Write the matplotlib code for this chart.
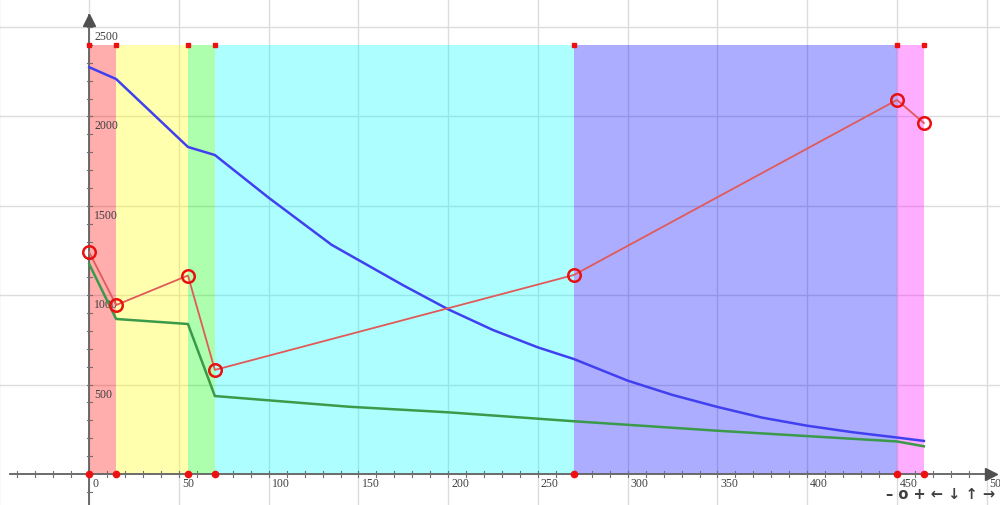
import matplotlib.pyplot as plt
import matplotlib.transforms as mtransforms

# phase boundaries and band colours
bounds = [0, 15, 55, 70, 270, 450, 465]
band_top = 2400
band_colors = ["#ff0000", "#ffff00", "#00ff00", "#00ffff", "#0000ff", "#ff00ff"]

# red series (circles)
red_x = [0, 15, 55, 70, 270, 450, 465]
red_y = [1240, 945, 1110, 582, 1113, 2092, 1963]

# blue curve
blue_x = [0, 15, 55, 70, 100, 135, 175, 200, 225, 250, 270,
          300, 325, 350, 375, 400, 425, 450, 465]
blue_y = [2275, 2209, 1829, 1784, 1545, 1282, 1055, 921, 805, 708, 643,
          522, 442, 375, 315, 270, 234, 204, 185]

# green curve
green_x = [0, 15, 55, 70, 145, 200, 270, 350, 400, 450, 465]
green_y = [1174, 867, 839, 436, 376, 345, 295, 242, 212, 182, 155]

# axis ticks
x_ticks = [0, 50, 100, 150, 200, 250, 300, 350, 400, 450, 500]
y_ticks = [500, 1000, 1500, 2000, 2500]

xmin, xmax = -49.7, 507.4
ymin, ymax = -173.4, 2656.6

fig = plt.figure(figsize=(10, 5.06), dpi=100)
ax = fig.add_axes([0, 0, 1, 1])
ax.set_xlim(xmin, xmax)
ax.set_ylim(ymin, ymax)
ax.axis("off")

# grid
for gx in range(-50, 510, 50):
    ax.axvline(gx, color="#dcdcdc", lw=1, zorder=0)
for gy in y_ticks:
    ax.axhline(gy, color="#dcdcdc", lw=1, zorder=0)

# coloured bands
for i in range(len(band_colors)):
    ax.fill_between([bounds[i], bounds[i + 1]], 0, band_top,
                    color=band_colors[i], alpha=0.32, lw=0, zorder=1)

# axes with arrows
ax.plot([-44, xmax - 3], [0, 0], color="#606060", lw=1.3, zorder=3)
ax.plot([0, 0], [ymin, ymax - 90], color="#606060", lw=1.3, zorder=3)
ax.plot(xmax - 5, 0, marker=">", color="#505050", ms=8, zorder=4, clip_on=False)
ax.plot(0, ymax - 120, marker="^", color="#505050", ms=8, zorder=4, clip_on=False)

# minor ticks
for tx in range(-40, 500, 10):
    ax.plot([tx, tx], [-15, 15], color="#707070", lw=0.8, zorder=3)
for ty in range(-100, 2600, 100):
    ax.plot([-1.5, 1.5], [ty, ty], color="#707070", lw=0.8, zorder=3)

# tick labels
lab = dict(fontsize=8.5, family="Liberation Serif", color="#404040", zorder=5)
for tx in x_ticks:
    off = mtransforms.offset_copy(ax.transData, fig=fig, x=3, y=-3, units="dots")
    ax.text(tx, 0, str(tx), transform=off, ha="left", va="top", **lab)
for ty in y_ticks:
    off = mtransforms.offset_copy(ax.transData, fig=fig, x=5, y=-3, units="dots")
    ax.text(0, ty, str(ty), transform=off, ha="left", va="top", **lab)

# series
ax.plot(blue_x, blue_y, color="#4040f0", lw=1.8, zorder=6)
ax.plot(green_x, green_y, color="#3a9a4a", lw=1.8, zorder=6)
ax.plot(red_x, red_y, color="#e05a5a", lw=1.3, zorder=7)
ax.plot(red_x, red_y, "o", ms=9, mfc="none", mec="#e81010", mew=1.8, zorder=8)

# corner dots of the bands
ax.plot(bounds, [band_top] * len(bounds), "s", color="#ee1010", ms=3.5, zorder=8)
ax.plot(bounds, [0] * len(bounds), "o", color="#ee1010", ms=4.5, zorder=8)

# view buttons
fig.text(0.886, 0.022, "– o + ← ↓ ↑ →", fontsize=10.5, fontweight="bold",
         color="#404040", family="DejaVu Sans", va="center")

plt.savefig("out.png", dpi=100)
